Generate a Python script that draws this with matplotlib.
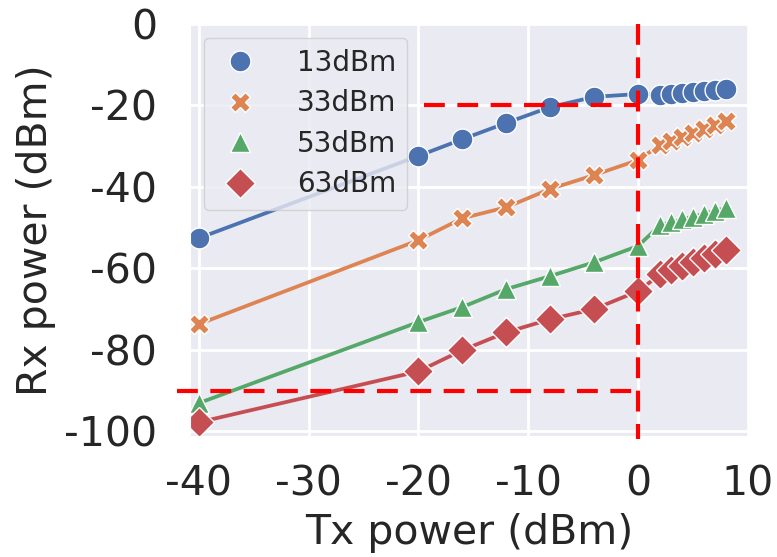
import matplotlib
matplotlib.use('Agg')
import matplotlib.pyplot as plt
import seaborn as sns
from matplotlib.lines import Line2D

# Tx power sweep (dBm)
tx = [-40, -20, -16, -12, -8, -4, 0, 2, 3, 4, 5, 6, 7, 8]

# received power for each setting (dBm)
rx_13 = [-52.6, -32.4, -28.3, -24.3, -20.4, -17.9, -17.2,
         -17.4, -17.2, -17.0, -16.8, -16.5, -16.3, -16.0]
rx_33 = [-73.7, -53.1, -47.7, -45.0, -40.5, -37.1, -33.4,
         -29.7, -28.7, -27.7, -26.7, -25.7, -24.7, -23.8]
rx_53 = [-93.1, -73.2, -69.5, -65.1, -61.9, -58.5, -54.5,
         -49.4, -48.7, -48.0, -47.3, -46.6, -45.9, -45.2]
rx_63 = [-97.8, -85.3, -80.1, -75.7, -72.5, -70.0, -65.6,
         -61.5, -60.5, -59.5, -58.5, -57.5, -56.5, -55.5]

labels = ['13dBm', '33dBm', '53dBm', '63dBm']
xticks = [-40, -30, -20, -10, 0, 10]
yticks = [0, -20, -40, -60, -80, -100]

sns.set_style("darkgrid")
plt.rcParams['font.family'] = ['DejaVu Sans']
plt.rcParams['axes.unicode_minus'] = False

colors = sns.color_palette("deep")[:4]
markers = ['o', 'X', '^', 'D']

fig = plt.figure(figsize=(7.77, 5.57), dpi=100)
ax = fig.add_axes([0.2445, 0.217, 0.7182, 0.740])
ax.grid(True, color='white', linewidth=2)

handles = []
for ys, lab, mk, c in zip([rx_13, rx_33, rx_53, rx_63], labels, markers, colors):
    ax.plot(tx, ys, color=c, lw=2.7, marker=mk, ms=15, mec='white', mew=1.0)
    handles.append(Line2D([], [], ls='none', marker=mk, color=c, ms=15,
                          mec='white', mew=1.0, label=lab))

# reference lines
ax.plot([0, 0], [0, -101.8], color='red', lw=3, ls=(0, (5, 3)), clip_on=False, zorder=5)
ax.plot([-19.5, 0], [-20, -20], color='red', lw=3, ls=(0, (5, 3)), clip_on=False, zorder=5)
ax.plot([-42, 0], [-90, -90], color='red', lw=3, ls=(0, (5, 3)), clip_on=False, zorder=5)

ax.set_xlim(-40.8, 10)
ax.set_ylim(-101.2, 0)
ax.set_xticks(xticks)
ax.set_yticks(yticks)
ax.tick_params(axis='x', labelsize=29.5, pad=17)
ax.tick_params(axis='y', labelsize=29.5, pad=20)
ax.set_xlabel('Tx power (dBm)', fontsize=29.5, labelpad=6)
ax.set_ylabel('Rx power (dBm)', fontsize=29.5, labelpad=6)

ax.legend(handles=handles, loc='upper left', fontsize=20, handlelength=1.8,
          handletextpad=1.15, labelspacing=0.45, borderaxespad=0.5)

fig.savefig('out.png', dpi=100)
